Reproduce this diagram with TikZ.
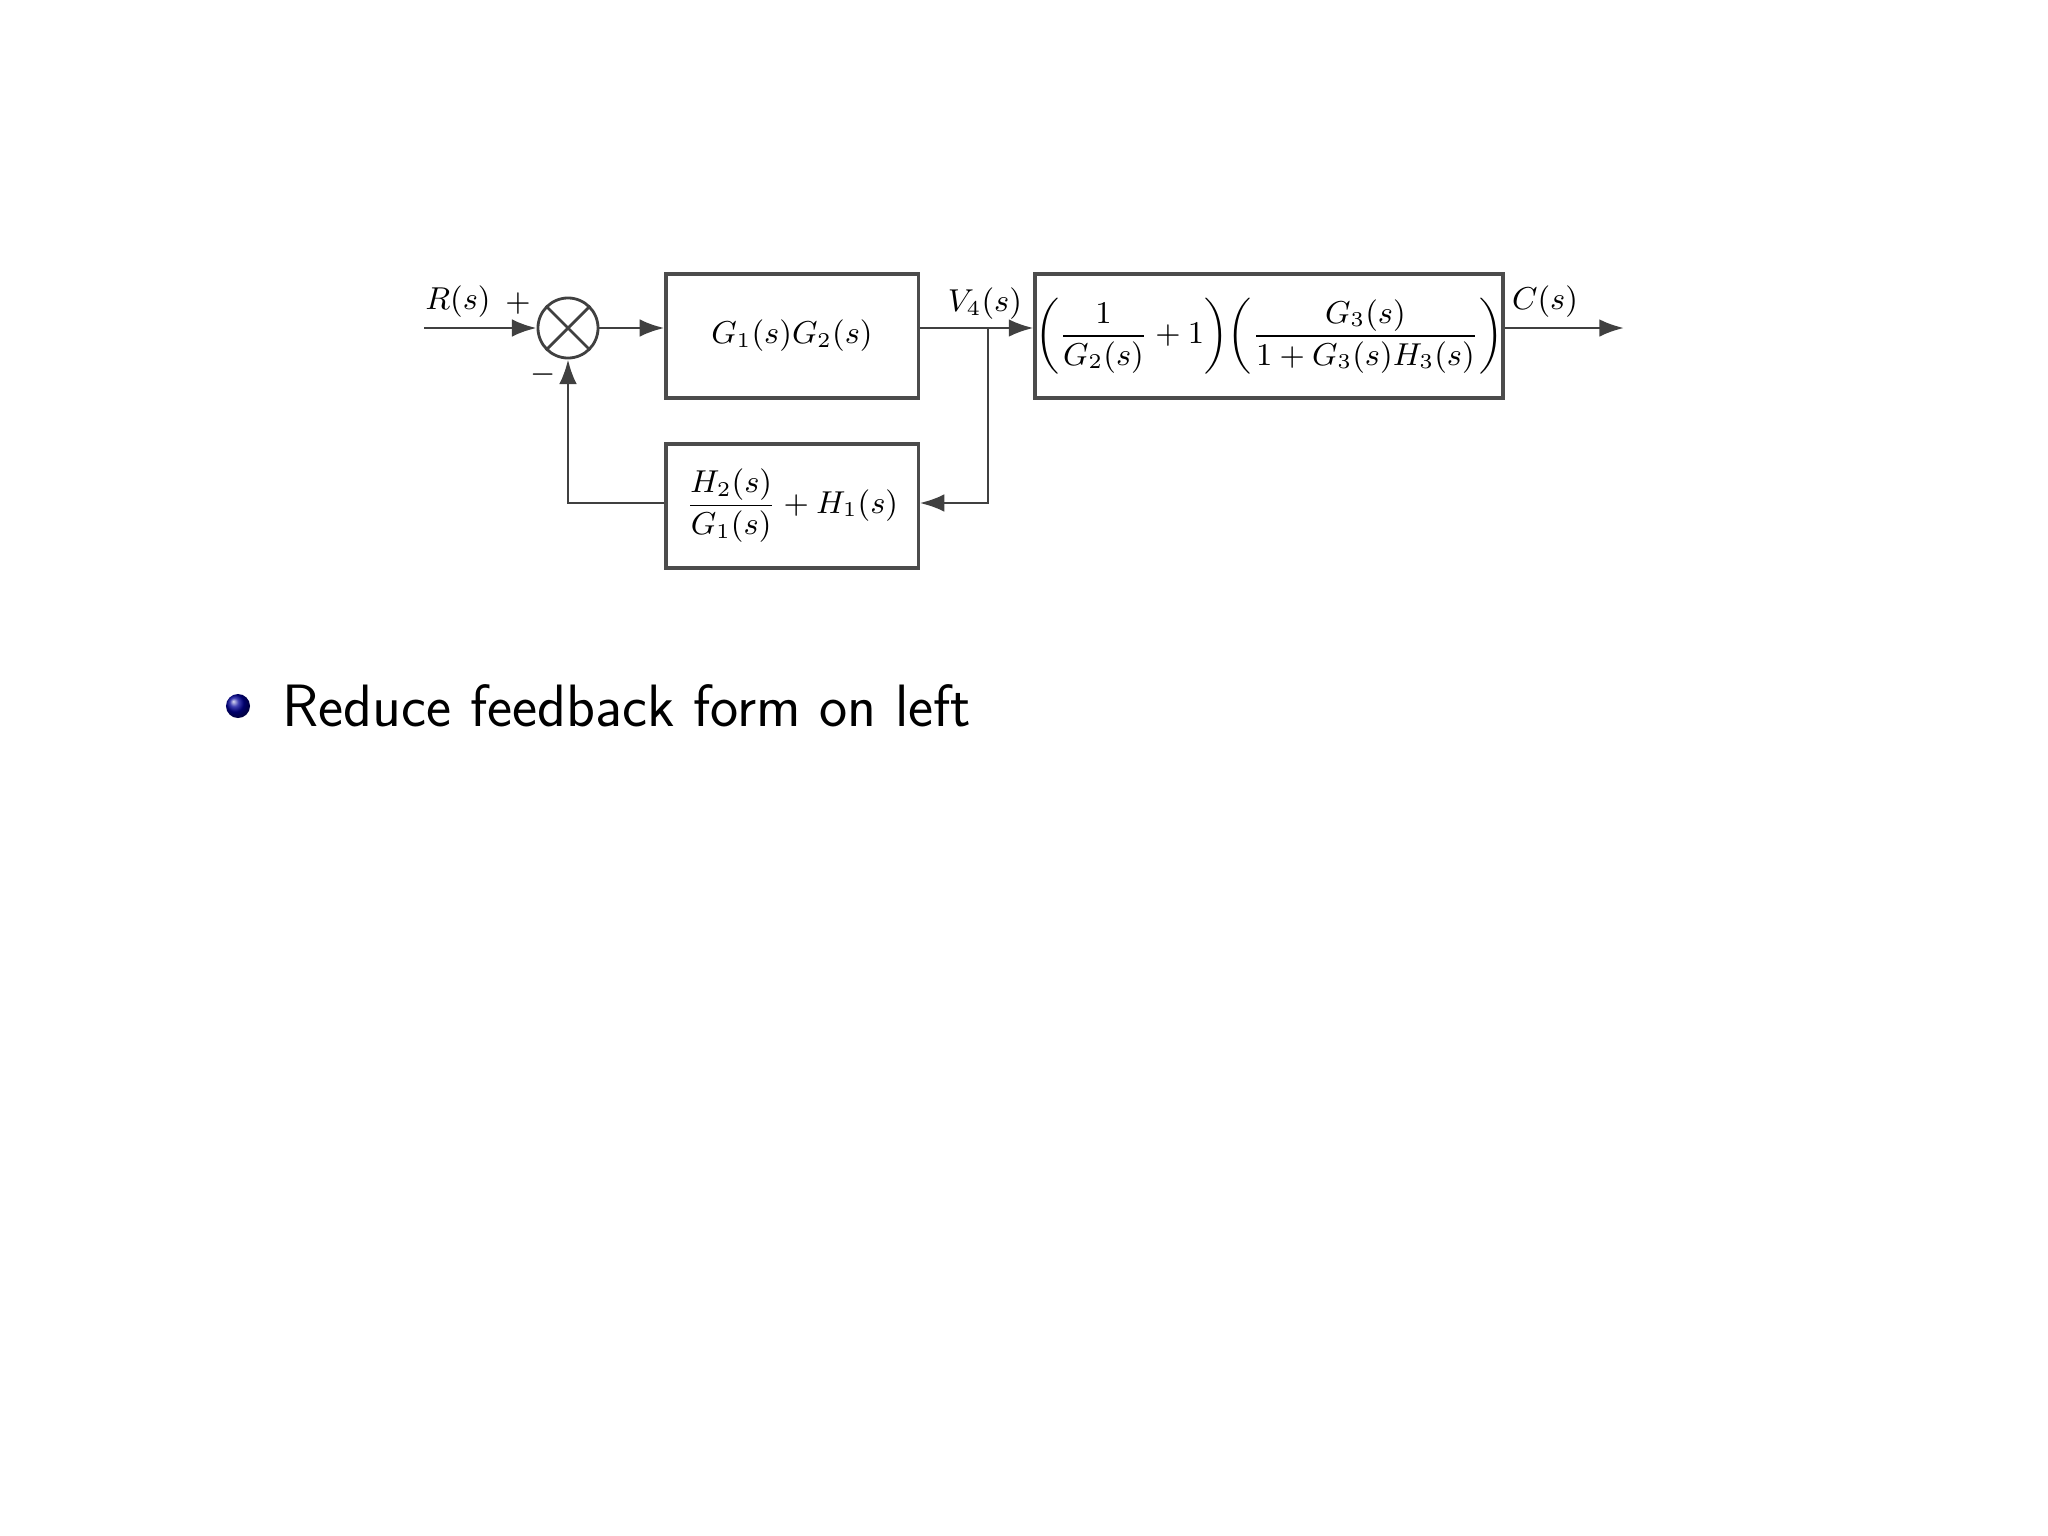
\documentclass[tikz,border=0pt]{standalone}
\usetikzlibrary{arrows.meta,shapes.geometric}
\usepackage{amsmath}
\begin{document}
\begin{tikzpicture}[x=0.01cm,y=-0.01cm,
  blk/.style={draw=black!70,line width=0.9pt,minimum width=2.52cm,minimum height=1.24cm,inner sep=0pt,font=\fontsize{9}{11}\selectfont},
  sig/.style={draw=black!75,line width=0.8pt,-{Latex[length=7pt,width=5pt]}},
  ln/.style={draw=black!75,line width=0.8pt},
  lab/.style={font=\fontsize{9}{11}\selectfont}]
\useasboundingbox (0,0) rectangle (2048,1536);
\coordinate (in) at (424,328);
\node[circle,draw=black!75,line width=0.8pt,minimum size=0.6cm,inner sep=0pt] (sum) at (568,328) {};
\draw[ln] (sum.north west)--(sum.south east) (sum.north east)--(sum.south west);
\node[blk] (g) at (792,336) {$G_1(s)G_2(s)$};
\node[blk,minimum width=4.3cm] (g2) at (1269,336)
  {$\left(\dfrac{1}{G_2(s)}+1\right)\!\left(\dfrac{G_3(s)}{1+G_3(s)H_3(s)}\right)$};
\node[blk] (h) at (792,506) {$\dfrac{H_2(s)}{G_1(s)}+H_1(s)$};
\coordinate (v4) at (988,328);
\coordinate (out) at (1624,328);
\coordinate (fb) at (568,503);
\draw[sig] (in)--(sum.west);
\draw[sig] (sum.east)--(g.west|-sum);
\draw[sig] (g.east|-sum)--(g2.west|-sum);
\draw[sig] (g2.east|-sum)--(out);
\draw[sig] (v4)|-(h.east|-fb);
\draw[sig] (h.west|-fb)--(fb)--(sum.south);
\node[lab] (r) at (458,302) {$R(s)$};
\node[lab] (p) at (518,304) {$+$};
\node[lab] (m) at (543,375) {$-$};
\node[lab] (v) at (985,304) {$V_4(s)$};
\node[lab] (c) at (1545,302) {$C(s)$};
\shade[ball color=blue!60!black] (238,706) circle (0.12cm);
\node[anchor=west,font=\sffamily\fontsize{17}{20}\selectfont] (t) at (270,706) {Reduce feedback form on left};
\end{tikzpicture}
\end{document}
